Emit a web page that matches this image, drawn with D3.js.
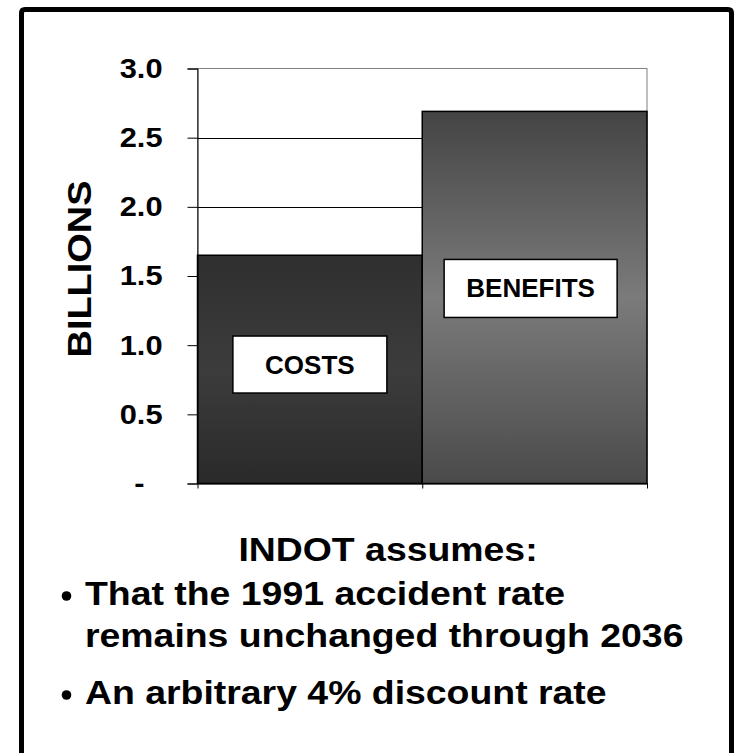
<!DOCTYPE html>
<html>
<head>
<meta charset="utf-8">
<script src="https://cdn.jsdelivr.net/npm/d3@7/dist/d3.min.js"></script>
<style>
  html, body { margin: 0; padding: 0; background: #fff; }
  svg { display: block; }
  text { font-family: "Liberation Sans", Arial, Helvetica, sans-serif; font-weight: bold; fill: #000; }
</style>
</head>
<body>
<svg id="chart" width="736" height="753"></svg>
<script>
// ---- data ----
const categories = ["COSTS", "BENEFITS"];
const values = [1.65, 2.69];
const yTickValues = [0, 0.5, 1.0, 1.5, 2.0, 2.5, 3.0];
const yTickLabels = ["-", "0.5", "1.0", "1.5", "2.0", "2.5", "3.0"];
const yAxisTitle = "BILLIONS";
const heading = "INDOT assumes:";
const bullets = [
  ["That the 1991 accident rate", "remains unchanged through 2036"],
  ["An arbitrary 4% discount rate"]
];

// ---- layout ----
const svg = d3.select("#chart");
const plot = { left: 197.5, right: 647, top: 68.5, bottom: 483.5 };
const SX = 1.1; // horizontal stretch of the slide text

const x = d3.scaleBand().domain(categories).range([plot.left, plot.right]).padding(0);
const y = d3.scaleLinear().domain([0, 3]).range([plot.bottom, plot.top]);

// outer frame
svg.append("path")
  .attr("d", `M21.5,760 L21.5,13 Q21.5,9.5 25,9.5 L728,9.5 Q731.5,9.5 731.5,13 L731.5,760`)
  .attr("fill", "none").attr("stroke", "#000").attr("stroke-width", 5);

// gradients
const defs = svg.append("defs");
const gradStops = [
  [["0", "#2f2f2f"], ["0.5", "#3c3c3c"], ["1", "#2a2a2a"]],
  [["0", "#444444"], ["0.5", "#7b7b7b"], ["1", "#4a4a4a"]]
];
gradStops.forEach((stops, i) => {
  const g = defs.append("linearGradient").attr("id", "g" + i)
    .attr("x1", 0).attr("y1", 0).attr("x2", 0).attr("y2", 1);
  stops.forEach(s => g.append("stop").attr("offset", s[0]).attr("stop-color", s[1]));
});

// plot border (gray)
svg.append("rect")
  .attr("x", plot.left).attr("y", plot.top)
  .attr("width", plot.right - plot.left).attr("height", plot.bottom - plot.top)
  .attr("fill", "#fff").attr("stroke", "#808080").attr("stroke-width", 1);

// gridlines
svg.append("g").selectAll("line")
  .data(yTickValues.filter(v => v > 0 && v < 3))
  .join("line")
  .attr("x1", plot.left).attr("x2", plot.right)
  .attr("y1", d => Math.round(y(d)) + 0.5).attr("y2", d => Math.round(y(d)) + 0.5)
  .attr("stroke", "#000").attr("stroke-width", 1);

// bars
svg.append("g").selectAll("rect")
  .data(categories.map((c, i) => ({ c, v: values[i], i })))
  .join("rect")
  .attr("x", d => x(d.c))
  .attr("y", d => y(d.v))
  .attr("width", x.bandwidth())
  .attr("height", d => y(0) - y(d.v))
  .attr("fill", d => `url(#g${d.i})`)
  .attr("stroke", "#000").attr("stroke-width", 1.5);

// y axis
const tickSX = 1.1;
const yAxis = d3.axisLeft(y)
  .tickValues(yTickValues)
  .tickFormat((d, i) => yTickLabels[i])
  .tickSize(10).tickPadding(25);
const ya = svg.append("g").attr("transform", `translate(${plot.left},0)`).call(yAxis);
ya.select(".domain").attr("stroke", "#000").attr("stroke-width", 1);
ya.selectAll(".tick line").attr("stroke", "#000");
ya.selectAll(".tick text")
  .style("font-size", "28px").style("font-weight", "bold")
  .style("font-family", '"Liberation Sans", Arial, sans-serif').attr("fill", "#000")
  .attr("x", (d, i) => (-35 + (i === 0 ? -18 : 0)) / tickSX)
  .attr("transform", `scale(${tickSX},1)`);

// x axis
const xAxis = d3.axisBottom(d3.scaleLinear().domain([0, 2]).range([plot.left, plot.right]))
  .tickValues([0, 1, 2]).tickFormat("").tickSize(5).tickSizeOuter(0);
const xa = svg.append("g").attr("transform", `translate(0,${plot.bottom})`).call(xAxis);
xa.select(".domain").attr("stroke", "#000");
xa.selectAll(".tick line").attr("stroke", "#000");

// bar labels (boxes)
const labelBoxes = [
  { cy: 0.86, w: 154, h: 57, dx: 0 },
  { cy: 1.41, w: 173, h: 58, dx: -4 }
];
categories.forEach((c, i) => {
  const b = labelBoxes[i];
  const cx = x(c) + x.bandwidth() / 2 + b.dx;
  const cy = y(b.cy);
  svg.append("rect")
    .attr("x", cx - b.w / 2).attr("y", cy - b.h / 2)
    .attr("width", b.w).attr("height", b.h)
    .attr("fill", "#fff").attr("stroke", "#000").attr("stroke-width", 1.5);
  svg.append("text")
    .attr("x", cx).attr("y", cy + 9)
    .attr("text-anchor", "middle")
    .style("font-size", "26px")
    .text(c);
});

// y axis title
svg.append("text")
  .attr("transform", "translate(91,269) rotate(-90) scale(1.15,1)")
  .attr("text-anchor", "middle")
  .style("font-size", "33px")
  .text(yAxisTitle);

// heading and bullets
function stretched(xp, yp, size, anchor, str) {
  svg.append("text")
    .attr("transform", `translate(${xp},${yp}) scale(${SX},1)`)
    .attr("text-anchor", anchor)
    .style("font-size", size + "px")
    .text(str);
}
stretched(388, 561, 34, "middle", heading);

const lineYs = [[605, 647], [704]];
bullets.forEach((lines, bi) => {
  svg.append("circle")
    .attr("cx", 66.5).attr("cy", lineYs[bi][0] - 9)
    .attr("r", 4.8).attr("fill", "#000");
  lines.forEach((t, li) => stretched(85, lineYs[bi][li], 34, "start", t));
});
</script>
</body>
</html>
